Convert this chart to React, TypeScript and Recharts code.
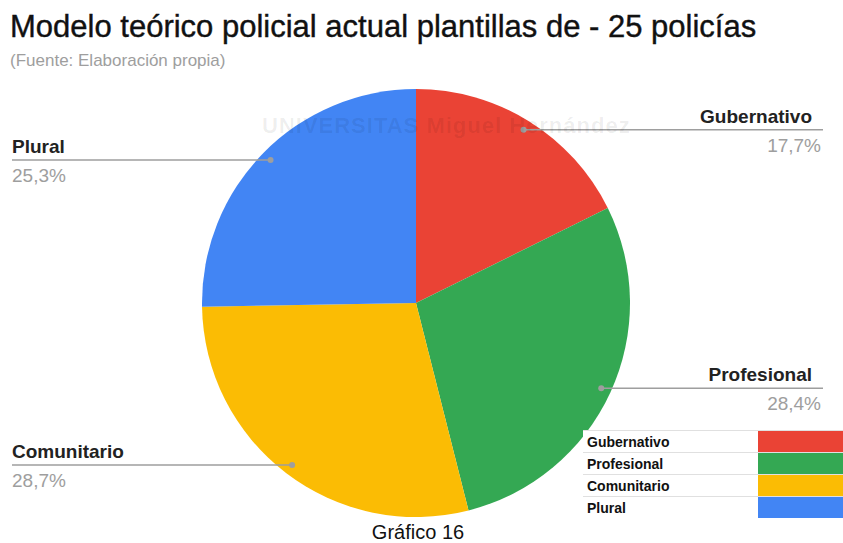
import React from "react"
import { PieChart, Pie, Cell } from "recharts"

const categories = ["Gubernativo", "Profesional", "Comunitario", "Plural"]
const values = [17.7, 28.4, 28.7, 25.3]
const COLORS = ["#EA4335", "#34A853", "#FBBC04", "#4285F4"]

const data = categories.map((name, i) => ({ name, value: values[i] }))

const RADIAN = Math.PI / 180
const FONT = "'Liberation Sans', Arial, sans-serif"

const renderLabel = (props: any) => {
  const { cx, cy, midAngle, outerRadius, name, value } = props
  const r = outerRadius * 0.953
  const x = cx + r * Math.cos(-midAngle * RADIAN)
  const y = cy + r * Math.sin(-midAngle * RADIAN)
  const right = x > cx
  const lineEnd = right ? 823 : 12
  const pct = value.toFixed(1).replace(".", ",") + "%"
  return (
    <g>
      <line x1={x} y1={y} x2={lineEnd} y2={y} stroke="#9e9e9e" strokeWidth={1.5} />
      <circle cx={x} cy={y} r={3} fill="#9e9e9e" />
      <text
        x={right ? 812 : 12}
        y={y - 7}
        textAnchor={right ? "end" : "start"}
        fontFamily={FONT}
        fontSize={19}
        fontWeight="bold"
        fill="#222222"
      >
        {name}
      </text>
      <text
        x={right ? 821 : 12}
        y={y + 22}
        textAnchor={right ? "end" : "start"}
        fontFamily={FONT}
        fontSize={19}
        fill="#9e9e9e"
      >
        {pct}
      </text>
    </g>
  )
}

export default function App() {
  return (
    <div
      style={{
        position: "absolute",
        left: 0,
        top: 0,
        width: 843,
        height: 543,
        background: "#fff",
        overflow: "hidden",
        fontFamily: FONT,
      }}
    >
      <div
        style={{
          position: "absolute",
          left: 10,
          top: 9,
          fontSize: 31,
          lineHeight: "36px",
          color: "#111",
          whiteSpace: "nowrap",
          WebkitTextStroke: "0.4px #111",
        }}
      >
        Modelo teórico policial actual plantillas de - 25 policías
      </div>
      <div
        style={{
          position: "absolute",
          left: 10,
          top: 51,
          fontSize: 17,
          lineHeight: "20px",
          color: "#9e9e9e",
          whiteSpace: "nowrap",
        }}
      >
        (Fuente: Elaboración propia)
      </div>

      <div style={{ position: "absolute", left: 0, top: 0 }}>
        <PieChart width={843} height={543} margin={{ top: 0, right: 0, bottom: 0, left: 0 }}>
          <Pie
            data={data}
            dataKey="value"
            nameKey="name"
            cx={416}
            cy={303}
            outerRadius={214}
            startAngle={90}
            endAngle={-270}
            stroke="none"
            labelLine={false}
            label={renderLabel}
            isAnimationActive={false}
          >
            {data.map((entry, index) => (
              <Cell key={`cell-${index}`} fill={COLORS[index % COLORS.length]} />
            ))}
          </Pie>
        </PieChart>
      </div>

      {/* marca de agua, por encima del gráfico */}
      <div
        style={{
          position: "absolute",
          left: 262,
          top: 113,
          fontSize: 22,
          fontWeight: "bold",
          letterSpacing: 1,
          color: "rgba(0,0,0,0.07)",
          whiteSpace: "nowrap",
          pointerEvents: "none",
        }}
      >
        UNIVERSITAS Miguel Hernández
      </div>

      {/* leyenda tipo tabla */}
      <div style={{ position: "absolute", left: 583, top: 430, width: 260, background: "#fff" }}>
        {categories.map((name, i) => (
          <div
            key={name}
            style={{
              height: 22,
              display: "flex",
              alignItems: "center",
              borderTop: "1px solid #e0e0e0",
              boxSizing: "border-box",
            }}
          >
            <div style={{ width: 171, paddingLeft: 4, fontSize: 14, fontWeight: "bold", color: "#111" }}>{name}</div>
            <div style={{ flex: 1, height: "100%", background: COLORS[i] }} />
          </div>
        ))}
      </div>

      <div
        style={{
          position: "absolute",
          left: 0,
          width: 836,
          top: 521,
          textAlign: "center",
          fontSize: 20,
          lineHeight: "23px",
          color: "#111",
        }}
      >
        Gráfico 16
      </div>
    </div>
  )
}
